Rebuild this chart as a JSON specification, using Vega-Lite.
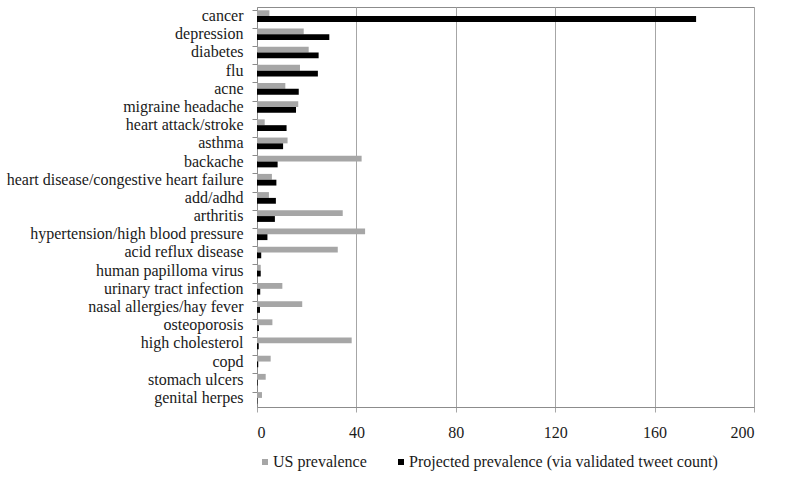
{
  "$schema": "https://vega.github.io/schema/vega-lite/v6.json",
  "width": 497,
  "height": 400,
  "autosize": {"type": "none"},
  "padding": {"left": 257, "top": 7, "right": 46, "bottom": 70},
  "background": "white",
  "config": {
    "font": "Liberation Serif",
    "view": {"stroke": "#8c8c8c", "strokeWidth": 1}
  },
  "data": {
    "values": [
      {"disease": "cancer", "series": "US prevalence", "value": 5.0},
      {"disease": "cancer", "series": "Projected prevalence (via validated tweet count)", "value": 176.7},
      {"disease": "depression", "series": "US prevalence", "value": 18.8},
      {"disease": "depression", "series": "Projected prevalence (via validated tweet count)", "value": 29.1},
      {"disease": "diabetes", "series": "US prevalence", "value": 20.8},
      {"disease": "diabetes", "series": "Projected prevalence (via validated tweet count)", "value": 24.8},
      {"disease": "flu", "series": "US prevalence", "value": 17.3},
      {"disease": "flu", "series": "Projected prevalence (via validated tweet count)", "value": 24.5},
      {"disease": "acne", "series": "US prevalence", "value": 11.4},
      {"disease": "acne", "series": "Projected prevalence (via validated tweet count)", "value": 16.8},
      {"disease": "migraine headache", "series": "US prevalence", "value": 16.6},
      {"disease": "migraine headache", "series": "Projected prevalence (via validated tweet count)", "value": 15.7},
      {"disease": "heart attack/stroke", "series": "US prevalence", "value": 3.1},
      {"disease": "heart attack/stroke", "series": "Projected prevalence (via validated tweet count)", "value": 11.9},
      {"disease": "asthma", "series": "US prevalence", "value": 12.3},
      {"disease": "asthma", "series": "Projected prevalence (via validated tweet count)", "value": 10.5},
      {"disease": "backache", "series": "US prevalence", "value": 42.1},
      {"disease": "backache", "series": "Projected prevalence (via validated tweet count)", "value": 8.3},
      {"disease": "heart disease/congestive heart failure", "series": "US prevalence", "value": 6.0},
      {"disease": "heart disease/congestive heart failure", "series": "Projected prevalence (via validated tweet count)", "value": 7.8},
      {"disease": "add/adhd", "series": "US prevalence", "value": 4.8},
      {"disease": "add/adhd", "series": "Projected prevalence (via validated tweet count)", "value": 7.6},
      {"disease": "arthritis", "series": "US prevalence", "value": 34.5},
      {"disease": "arthritis", "series": "Projected prevalence (via validated tweet count)", "value": 7.2},
      {"disease": "hypertension/high blood pressure", "series": "US prevalence", "value": 43.5},
      {"disease": "hypertension/high blood pressure", "series": "Projected prevalence (via validated tweet count)", "value": 4.2},
      {"disease": "acid reflux disease", "series": "US prevalence", "value": 32.5},
      {"disease": "acid reflux disease", "series": "Projected prevalence (via validated tweet count)", "value": 1.7},
      {"disease": "human papilloma virus", "series": "US prevalence", "value": 1.5},
      {"disease": "human papilloma virus", "series": "Projected prevalence (via validated tweet count)", "value": 1.5},
      {"disease": "urinary tract infection", "series": "US prevalence", "value": 10.2},
      {"disease": "urinary tract infection", "series": "Projected prevalence (via validated tweet count)", "value": 1.3},
      {"disease": "nasal allergies/hay fever", "series": "US prevalence", "value": 18.2},
      {"disease": "nasal allergies/hay fever", "series": "Projected prevalence (via validated tweet count)", "value": 1.2},
      {"disease": "osteoporosis", "series": "US prevalence", "value": 6.2},
      {"disease": "osteoporosis", "series": "Projected prevalence (via validated tweet count)", "value": 0.8},
      {"disease": "high cholesterol", "series": "US prevalence", "value": 38.1},
      {"disease": "high cholesterol", "series": "Projected prevalence (via validated tweet count)", "value": 0.7},
      {"disease": "copd", "series": "US prevalence", "value": 5.5},
      {"disease": "copd", "series": "Projected prevalence (via validated tweet count)", "value": 0.5},
      {"disease": "stomach ulcers", "series": "US prevalence", "value": 3.5},
      {"disease": "stomach ulcers", "series": "Projected prevalence (via validated tweet count)", "value": 0.25},
      {"disease": "genital herpes", "series": "US prevalence", "value": 2.0},
      {"disease": "genital herpes", "series": "Projected prevalence (via validated tweet count)", "value": 0.15}
    ]
  },
  "mark": {"type": "bar"},
  "encoding": {
    "y": {
      "field": "disease",
      "type": "nominal",
      "sort": null,
      "title": null,
      "scale": {"paddingInner": 0.36, "paddingOuter": 0.18},
      "axis": {
        "bandPosition": 0,
        "domainColor": "#8c8c8c",
        "tickColor": "#8c8c8c",
        "tickSize": 5,
        "labelFontSize": 16,
        "labelColor": "#1a1a1a",
        "labelPadding": 9,
        "labelLimit": 300
      }
    },
    "yOffset": {
      "field": "series",
      "type": "nominal",
      "sort": ["US prevalence", "Projected prevalence (via validated tweet count)"]
    },
    "x": {
      "field": "value",
      "type": "quantitative",
      "title": null,
      "scale": {"domain": [0, 200]},
      "axis": {
        "values": [0, 40, 80, 120, 160, 200],
        "grid": true,
        "gridColor": "#a6a6a6",
        "domainColor": "#8c8c8c",
        "tickColor": "#a6a6a6",
        "tickSize": 5,
        "labelFontSize": 16,
        "labelColor": "#1a1a1a",
        "labelPadding": 12
      }
    },
    "color": {
      "field": "series",
      "type": "nominal",
      "sort": ["US prevalence", "Projected prevalence (via validated tweet count)"],
      "scale": {"range": ["#a6a6a6", "#000000"]},
      "legend": {
        "title": null,
        "orient": "bottom",
        "direction": "horizontal",
        "symbolType": "square",
        "symbolSize": 36,
        "symbolStrokeWidth": 0,
        "symbolOffset": 0,
        "labelFontSize": 16,
        "labelColor": "#1a1a1a",
        "labelLimit": 400,
        "columnPadding": 26,
        "labelOffset": 0,
        "offset": 14
      }
    }
  }
}
